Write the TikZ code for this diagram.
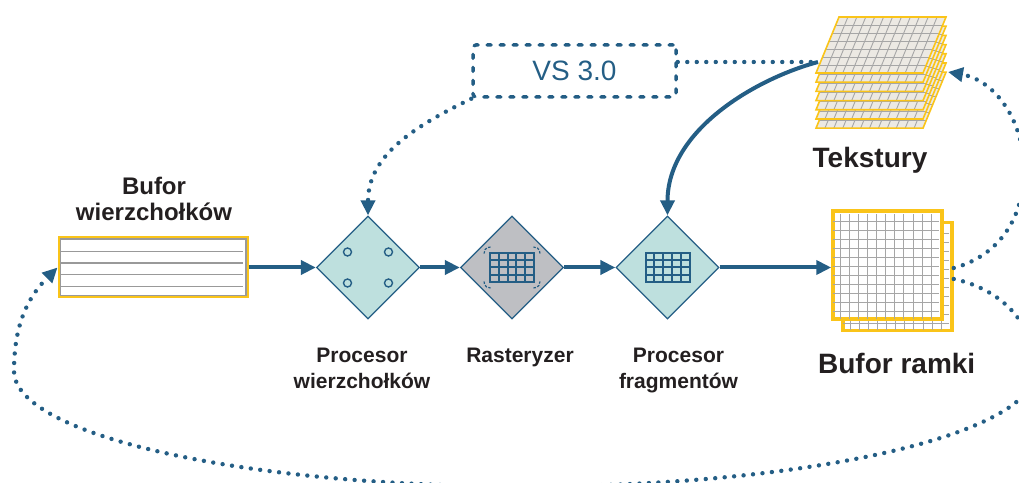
\documentclass[tikz,border=0pt]{standalone}
\usepackage{fontspec}
\setmainfont{Liberation Sans}
\usepackage{tikz}
\usetikzlibrary{arrows.meta,positioning,shapes.geometric}

\definecolor{pipeblue}{RGB}{36,94,133}
\definecolor{procfill}{RGB}{190,224,222}
\definecolor{rastfill}{RGB}{190,191,195}
\definecolor{bufgold}{RGB}{250,196,25}
\definecolor{texfill}{RGB}{236,233,227}
\definecolor{inkgray}{RGB}{35,31,32}

\begin{document}
\begin{tikzpicture}[x=1pt, y=1pt,
  flow/.style={draw=pipeblue, line width=4pt, -{Triangle[length=15pt,width=14pt]}},
  dotline/.style={draw=pipeblue, line width=4.4pt, line cap=round, dash pattern=on 0pt off 9.5pt},
  proc/.style={diamond, aspect=1, draw=pipeblue, line width=1.3pt, fill=procfill,
    minimum width=103pt, minimum height=103pt, inner sep=0pt},
  icon/.style={draw=pipeblue, line width=1.4pt},
  vbuf/.style={draw=bufgold, line width=3pt, fill=white, minimum width=188pt, minimum height=59pt, inner sep=0pt},
  fbuf/.style={draw=bufgold, line width=3.5pt, fill=white, minimum width=109pt, minimum height=108pt, inner sep=0pt},
  rowline/.style={draw=gray!80, line width=1.2pt},
  cell/.style={draw=gray!70, line width=0.9pt},
  lbl/.style={text=inkgray, align=center, inner sep=0pt, anchor=north, font=\fontsize{21}{26}\selectfont\bfseries},
  biglbl/.style={lbl, font=\fontsize{28}{30}\selectfont\bfseries},
  vsbox/.style={draw=pipeblue, line width=3.5pt, dash pattern=on 4pt off 9pt, line cap=round,
    rounded corners=3pt, minimum width=203pt, minimum height=52pt, inner sep=0pt,
    text=pipeblue, font=\fontsize{28}{30}\selectfont}]
\useasboundingbox (0,0) rectangle (1019,482);
\clip (0,0) rectangle (1019,482);

% vertex buffer
\node[vbuf] (vb) at (153,214.5) {};
\draw[rowline] ([shift={(2.6,2.6)}]vb.south west) rectangle ([shift={(-2.6,-2.6)}]vb.north east);
\begin{scope}[shift={(vb.south west)}]
  \foreach \j in {1,...,4} \draw[rowline] (2.6,\j*59/5) -- (185.4,\j*59/5);
\end{scope}
\node[lbl, font=\fontsize{24}{26}\selectfont\bfseries] (vb label) at (154,305) {Bufor\\wierzchołków};

% pipeline stages
\node[proc] (d1) at (368,214.5) {};
\node[proc, fill=rastfill] (d2) at (512,214.5) {};
\node[proc] (d3) at (667.5,214.5) {};

\foreach \dx/\dy in {-20.5/15.5, 20.5/15.5, -20.5/-15.5, 20.5/-15.5}
  \draw[icon] ([shift={(\dx,\dy)}]d1.center) circle[radius=4];

\foreach \n in {d2,d3} {
  \begin{scope}[shift={(\n.center)}]
    \draw[icon, line width=2pt] (-22,-14.5) rectangle (22,14.5);
    \foreach \i in {1,...,4} \draw[icon, line width=2pt] (-22+\i*8.8,-14.5) -- ++(0,29);
    \foreach \j in {1,2,3} \draw[icon, line width=2pt] (-22,-14.5+\j*7.25) -- ++(44,0);
  \end{scope}
}
% dashed corner marks of the rasterizer
\begin{scope}[shift={(d2.center)}]
  \foreach \cx/\cy/\a in {-22/14.5/90, 22/14.5/0, 22/-14.5/-90, -22/-14.5/180}
    \draw[icon, line width=1.2pt, dash pattern=on 2.5pt off 1.5pt]
      (\cx,\cy) ++(\a-5:6) arc[start angle=\a-5, end angle=\a+95, radius=6];
\end{scope}

\node[lbl] (d1 label) at (362,134) {Procesor\\wierzchołków};
\node[lbl] (d2 label) at (520,134) {Rasteryzer};
\node[lbl] (d3 label) at (678.5,134) {Procesor\\fragmentów};

% frame buffer, back and front
\node[fbuf] (fbb) at (897.5,205.5) {};
\begin{scope}[shift={(fbb.south west)}]
  \foreach \i in {1,...,11} {
    \draw[cell] (\i*109/12,1.75) -- (\i*109/12,106.25);
    \draw[cell] (1.75,\i*108/12) -- (107.25,\i*108/12);
  }
\end{scope}
\node[fbuf] (fb) at (887.5,217) {};
\begin{scope}[shift={(fb.south west)}]
  \foreach \i in {1,...,11} {
    \draw[cell] (\i*109/12,1.75) -- (\i*109/12,106.25);
    \draw[cell] (1.75,\i*108/12) -- (107.25,\i*108/12);
  }
\end{scope}
\node[biglbl] (fb label) at (896.7,129.3) {Bufor ramki};

% texture stack
\foreach \k in {6,5,...,0} {
  \begin{scope}[shift={(816,409-9.2*\k)}, xslant=0.4107]
    \fill[texfill] (0,0) rectangle (107,56);
    \foreach \i in {1,...,11} \draw[cell] (\i*107/12,0) -- (\i*107/12,56);
    \foreach \j in {1,...,6} \draw[cell] (0,\j*8) -- (107,\j*8);
    \draw[bufgold, line width=1.6pt] (0,0) rectangle (107,56);
  \end{scope}
}
\coordinate (tex west) at (818,420);
\coordinate (tex east) at (948,410);
\node[biglbl] (tex label) at (870,335.3) {Tekstury};

% shader version box
\node[vsbox] (vs) at (574.5,411) {VS 3.0};

% main data path
\draw[flow] (vb) -- (d1);
\draw[flow] (d1) -- (d2);
\draw[flow] (d2) -- (d3);
\draw[flow] (d3.east) -- (d3.east -| fb.west);
\draw[flow] (tex west) .. controls +(195:63) and +(90:86) .. (d3.north);

% dotted links
\draw[dotline] (vs.east |- tex west) -- (tex west);
\draw[dotline, -{Triangle[length=15pt,width=14pt]}] (vs.south west) to[out=206, in=90] (d1.north);
\coordinate (loop up) at (1024,312);
\draw[dotline, -{Triangle[length=15pt,width=14pt]}]
  ([yshift=8.5pt]fbb.east) to[out=15, in=-90] (loop up) to[out=90, in=-10] (tex east);
\coordinate (loop right) at (1035,111);
\draw[dotline, -{Triangle[length=15pt,width=14pt]}]
  ([yshift=-2.5pt]fbb.east) to[out=-12, in=90] (loop right)
  arc[start angle=0, end angle=-180, x radius=510.5, y radius=115.5]
  to[out=90, in=225] (vb.west);
\end{tikzpicture}
\end{document}
